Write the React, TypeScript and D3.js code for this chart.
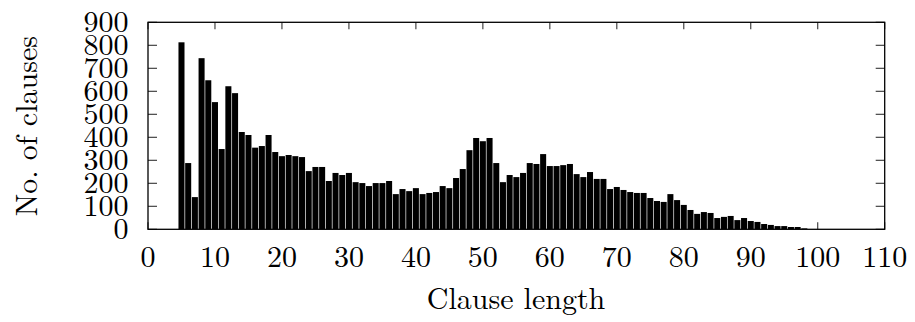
import React from "react";
import * as d3 from "d3";

const clauseLengths: number[] = [
  5, 6, 7, 8, 9, 10, 11, 12, 13, 14, 15, 16, 17, 18, 19, 20, 21, 22, 23, 24, 25, 26, 27, 28, 29,
  30, 31, 32, 33, 34, 35, 36, 37, 38, 39, 40, 41, 42, 43, 44, 45, 46, 47, 48, 49, 50, 51, 52, 53, 54,
  55, 56, 57, 58, 59, 60, 61, 62, 63, 64, 65, 66, 67, 68, 69, 70, 71, 72, 73, 74, 75, 76, 77, 78, 79,
  80, 81, 82, 83, 84, 85, 86, 87, 88, 89, 90, 91, 92, 93, 94, 95, 96, 97, 98,
];
const clauseCounts: number[] = [
  813, 288, 140, 744, 648, 553, 349, 622, 592, 423, 410, 355, 362, 410, 336, 318, 323, 318, 314, 253, 271, 271, 210, 245, 236,
  245, 205, 201, 188, 201, 201, 210, 153, 175, 166, 179, 153, 158, 162, 188, 179, 223, 262, 344, 397, 383, 397, 288, 205, 236,
  227, 245, 288, 284, 327, 275, 275, 279, 284, 240, 227, 249, 219, 219, 175, 184, 171, 162, 158, 158, 136, 123, 119, 153, 127,
  106, 84, 67, 75, 71, 49, 54, 58, 40, 49, 36, 32, 23, 19, 14, 14, 10, 10, 4,
];
const xTicks: number[] = [0, 10, 20, 30, 40, 50, 60, 70, 80, 90, 100, 110];
const yTicks: number[] = [0, 100, 200, 300, 400, 500, 600, 700, 800, 900];
const xLabel = "Clause length";
const yLabel = "No. of clauses";

export default function App() {
  const W = 915;
  const H = 322;
  const left = 148;
  const right = 884.7;
  const top = 22.3;
  const bottom = 229.3;
  const x = d3.scaleLinear().domain([0, 110]).range([left, right]);
  const y = d3.scaleLinear().domain([0, 900]).range([bottom, top]);
  const boxW = 0.9;
  const txt = {
    fontFamily: '"Latin Modern Roman", "CMU Serif", serif',
    fontSize: 30,
    fill: "#000",
  } as React.CSSProperties;
  const data = clauseLengths.map((l, i) => ({ l, c: clauseCounts[i] }));

  return (
    <svg
      width={W}
      height={H}
      style={{ position: "absolute", left: 0, top: 0, background: "#fff" }}
    >
      <rect x={0} y={0} width={W} height={H} fill="#fff" />
      {xTicks.map((t) => (
        <g key={"xt" + t}>
          <line x1={x(t)} x2={x(t)} y1={bottom} y2={bottom - 7} stroke="#333" strokeWidth={1.1} />
          <line x1={x(t)} x2={x(t)} y1={top} y2={top + 7} stroke="#333" strokeWidth={1.1} />
        </g>
      ))}
      {yTicks.map((t) => (
        <g key={"yt" + t}>
          <line x1={left} x2={left + 9} y1={y(t)} y2={y(t)} stroke="#333" strokeWidth={1.1} />
          <line x1={right} x2={right - 9} y1={y(t)} y2={y(t)} stroke="#333" strokeWidth={1.1} />
        </g>
      ))}
      {data.map((d) => (
        <rect
          key={d.l}
          x={x(d.l - boxW / 2)}
          width={x(boxW) - x(0)}
          y={y(d.c)}
          height={y(0) - y(d.c)}
          fill="#000"
        />
      ))}
      <rect
        x={left}
        y={top}
        width={right - left}
        height={bottom - top}
        fill="none"
        stroke="#000"
        strokeWidth={1.3}
      />
      {xTicks.map((t) => (
        <text key={"xl" + t} x={x(t)} y={267} textAnchor="middle" style={txt}>
          {t}
        </text>
      ))}
      {yTicks.map((t) => (
        <text key={"yl" + t} x={128.5} y={y(t) + 10} textAnchor="end" style={txt}>
          {t}
        </text>
      ))}
      <text x={516} y={309} textAnchor="middle" style={txt}>
        {xLabel}
      </text>
      <text transform="translate(37,126) rotate(-90)" textAnchor="middle" style={txt}>
        {yLabel}
      </text>
    </svg>
  );
}
